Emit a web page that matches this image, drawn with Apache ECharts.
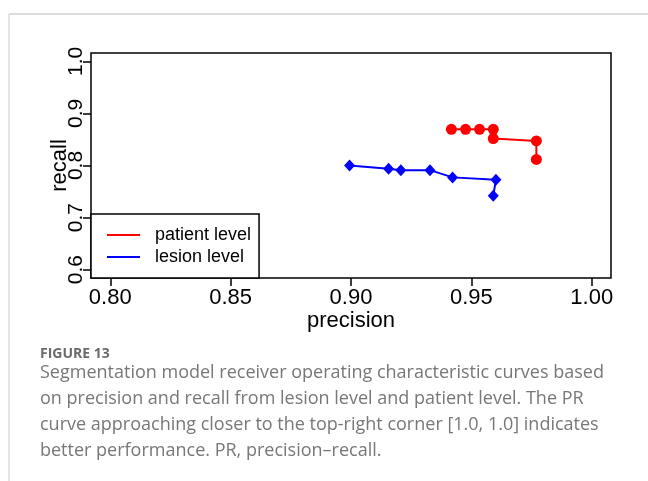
<!DOCTYPE html>
<html>
<head>
<meta charset="utf-8">
<script src="https://cdn.jsdelivr.net/npm/echarts@6/dist/echarts.min.js"></script>
<style>
  html, body { margin: 0; padding: 0; background: #fff; }
  #chart { width: 648px; height: 481px; }
</style>
</head>
<body>
<div id="chart"></div>
<script>
// patient level (red circles)
const patientPrecision = [0.9417, 0.9476, 0.9534, 0.9591, 0.9591, 0.9770, 0.9770];
const patientRecall    = [0.8695, 0.8695, 0.8695, 0.8695, 0.8517, 0.8471, 0.8116];
// lesion level (blue diamonds)
const lesionPrecision = [0.8994, 0.9156, 0.9207, 0.9328, 0.9422, 0.9602, 0.9591];
const lesionRecall    = [0.8001, 0.7936, 0.7911, 0.7911, 0.7772, 0.7726, 0.7420];

const xTicks = [0.80, 0.85, 0.90, 0.95, 1.00];
const yTicks = [0.6, 0.7, 0.8, 0.9, 1.0];
const seriesNames = ['patient level', 'lesion level'];

const captionTitle = 'FIGURE 13';
const captionLines = [
  'Segmentation model receiver operating characteristic curves based',
  'on precision and recall from lesion level and patient level. The PR',
  'curve approaching closer to the top-right corner [1.0, 1.0] indicates',
  'better performance. PR, precision\u2013recall.'
];

const zip = (a, b) => a.map((v, i) => [v, b[i]]);

const chart = echarts.init(document.getElementById('chart'));

const plotFont = 'Liberation Sans, Arial, sans-serif';
const captionFont = '"Open Sans", Lato, sans-serif';

const graphics = [
  // card frame
  { type: 'line', shape: { x1: 9, y1: 14, x2: 648, y2: 14 }, style: { stroke: '#dcdcdc', lineWidth: 2 } },
  { type: 'line', shape: { x1: 9, y1: 14, x2: 9, y2: 481 }, style: { stroke: '#dcdcdc', lineWidth: 1.5 } },
  { type: 'text', left: 40, top: 347, style: { text: captionTitle, font: 'bold 14px "Open Sans", sans-serif', fill: '#6b6b6b' } }
];
captionLines.forEach((t, i) => {
  graphics.push({ type: 'text', left: 40, top: 364 + i * 26,
    style: { text: t, font: '18px ' + captionFont, fill: '#777777' } });
});

chart.setOption({
  backgroundColor: '#fff',
  animation: false,
  grid: {
    left: 91, top: 53, right: 37, bottom: 203,
    show: true, borderColor: '#000', borderWidth: 1.5, backgroundColor: 'transparent'
  },
  legend: {
    left: 91, top: 214,
    orient: 'vertical',
    data: seriesNames,
    icon: 'rect',
    itemWidth: 33, itemHeight: 2, itemGap: 0,
    padding: [10, 8, 10, 16],
    borderColor: '#000', borderWidth: 1.5, backgroundColor: '#fff',
    borderRadius: 0,
    textStyle: { fontFamily: plotFont, fontSize: 18, color: '#000', lineHeight: 22, padding: [0, 0, 0, 10] },
    z: 10
  },
  xAxis: {
    type: 'value', min: 0.792, max: 1.008,
    name: 'precision', nameLocation: 'middle', nameGap: 24,
    nameTextStyle: { fontFamily: plotFont, fontSize: 22, color: '#000' },
    axisLine: { show: false },
    splitLine: { show: false },
    axisTick: { show: true, customValues: xTicks, length: 8, lineStyle: { color: '#000', width: 1.5 } },
    axisLabel: { customValues: xTicks, margin: 9, fontFamily: plotFont, fontSize: 22, color: '#000',
      formatter: v => v.toFixed(2) }
  },
  yAxis: {
    type: 'value', min: 0.584, max: 1.016,
    name: 'recall', nameLocation: 'middle', nameGap: 20, nameRotate: 90,
    nameMoveOverlap: false,
    nameTextStyle: { fontFamily: plotFont, fontSize: 22, color: '#000' },
    axisLine: { show: false },
    splitLine: { show: false },
    axisTick: { show: true, customValues: yTicks, length: 8, lineStyle: { color: '#000', width: 1.5 } },
    axisLabel: { customValues: yTicks, rotate: 90, margin: 4, fontFamily: plotFont, fontSize: 21, color: '#000',
      formatter: v => v.toFixed(1) }
  },
  series: [
    {
      name: seriesNames[0], type: 'line',
      data: zip(patientPrecision, patientRecall),
      symbol: 'circle', symbolSize: 11,
      lineStyle: { color: '#ff0000', width: 2 },
      itemStyle: { color: '#ff0000' }
    },
    {
      name: seriesNames[1], type: 'line',
      data: zip(lesionPrecision, lesionRecall),
      symbol: 'diamond', symbolSize: [11, 12],
      lineStyle: { color: '#0000ff', width: 2 },
      itemStyle: { color: '#0000ff' }
    }
  ],
  graphic: graphics
});
</script>
</body>
</html>
